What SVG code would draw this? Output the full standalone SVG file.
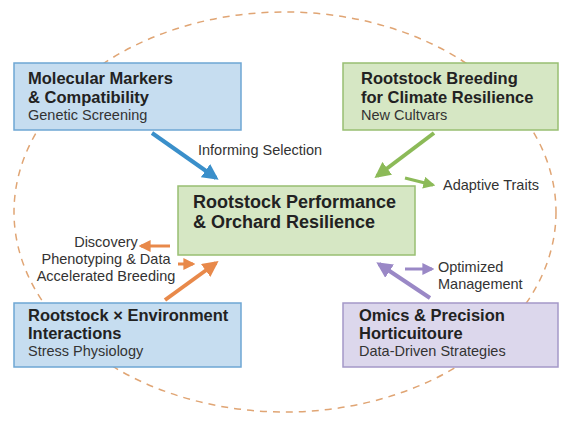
<svg xmlns="http://www.w3.org/2000/svg" width="561" height="422" viewBox="0 0 561 422">
  <style>
    text { font-family: "Liberation Sans", Arial, sans-serif; fill: #222; }
    .title { font-size: 16.5px; font-weight: bold; }
    .ctitle { font-size: 18px; font-weight: bold; }
    .sub { font-size: 14.5px; fill: #333; }
    .lbl { font-size: 14.5px; fill: #333; }
    .blue { fill: #c6ddf0; stroke: #6ea6d4; stroke-width: 1.5; }
    .green { fill: #d6e7c4; stroke: #98bf72; stroke-width: 1.5; }
    .purple { fill: #dcd7ec; stroke: #a498c8; stroke-width: 1.5; }
    .a-blue { stroke: #3a8fca; stroke-width: 4; fill: none; marker-end: url(#hBlue); }
    .a-green { stroke: #8cba58; stroke-width: 4; fill: none; marker-end: url(#hGreen); }
    .a-orange { stroke: #e8894a; stroke-width: 4; fill: none; marker-end: url(#hOrange); }
    .a-purple { stroke: #9a88c6; stroke-width: 4; fill: none; marker-end: url(#hPurple); }
    .thin { stroke-width: 3; }
  </style>
  <defs>
    <marker id="hBlue" viewBox="0 0 10 10" refX="8" refY="5" markerWidth="4" markerHeight="4" orient="auto" markerUnits="strokeWidth">
      <path d="M0,0 L10,5 L0,10 z" fill="#3a8fca"/>
    </marker>
    <marker id="hGreen" viewBox="0 0 10 10" refX="8" refY="5" markerWidth="4" markerHeight="4" orient="auto" markerUnits="strokeWidth">
      <path d="M0,0 L10,5 L0,10 z" fill="#8cba58"/>
    </marker>
    <marker id="hOrange" viewBox="0 0 10 10" refX="8" refY="5" markerWidth="4" markerHeight="4" orient="auto" markerUnits="strokeWidth">
      <path d="M0,0 L10,5 L0,10 z" fill="#e8894a"/>
    </marker>
    <marker id="hPurple" viewBox="0 0 10 10" refX="8" refY="5" markerWidth="4" markerHeight="4" orient="auto" markerUnits="strokeWidth">
      <path d="M0,0 L10,5 L0,10 z" fill="#9a88c6"/>
    </marker>
  </defs>

  <rect width="561" height="422" fill="#ffffff"/>

  <!-- dashed cycle ring behind the boxes -->
  <ellipse cx="285" cy="212" rx="271" ry="200" fill="none" stroke="#e0a574" stroke-width="1.5" stroke-dasharray="7 6"/>

  <g id="connectors">
    <line class="a-blue" x1="152" y1="133" x2="216" y2="178"/>
    <line class="a-green" x1="434" y1="133" x2="377" y2="176"/>
    <line class="a-green thin" x1="405" y1="178" x2="433" y2="185"/>
    <line class="a-orange" x1="165" y1="300" x2="216" y2="263"/>
    <line class="a-orange thin" x1="170" y1="246" x2="141" y2="246"/>
    <line class="a-orange thin" x1="178" y1="264" x2="193" y2="264"/>
    <line class="a-purple" x1="430" y1="298" x2="379" y2="264"/>
    <line class="a-purple thin" x1="405" y1="269" x2="432" y2="269"/>
  </g>

  <g id="labels">
    <text class="lbl" x="198" y="155">Informing Selection</text>
    <text class="lbl" x="443" y="190">Adaptive Traits</text>
    <text class="lbl" x="106" y="247" text-anchor="middle">Discovery</text>
    <text class="lbl" x="106" y="264" text-anchor="middle">Phenotyping &amp; Data</text>
    <text class="lbl" x="106" y="281" text-anchor="middle">Accelerated Breeding</text>
    <text class="lbl" x="438" y="272">Optimized</text>
    <text class="lbl" x="438" y="289">Management</text>
  </g>

  <g id="molecular-markers">
    <rect class="blue" x="14" y="63" width="227" height="67"/>
    <text class="title" x="28" y="84">Molecular Markers</text>
    <text class="title" x="28" y="103">&amp; Compatibility</text>
    <text class="sub" x="28" y="120">Genetic Screening</text>
  </g>

  <g id="rootstock-breeding">
    <rect class="green" x="343" y="63" width="215" height="67"/>
    <text class="title" x="361" y="84">Rootstock Breeding</text>
    <text class="title" x="361" y="103">for Climate Resilience</text>
    <text class="sub" x="361" y="120">New Cultvars</text>
  </g>

  <g id="rootstock-performance">
    <rect class="green" x="178" y="186" width="237" height="69"/>
    <text class="ctitle" x="193" y="208">Rootstock Performance</text>
    <text class="ctitle" x="193" y="228">&amp; Orchard Resilience</text>
  </g>

  <g id="rootstock-environment">
    <rect class="blue" x="14" y="303" width="227" height="64"/>
    <text class="title" x="28" y="321">Rootstock × Environment</text>
    <text class="title" x="28" y="339">Interactions</text>
    <text class="sub" x="28" y="356">Stress Physiology</text>
  </g>

  <g id="omics-precision">
    <rect class="purple" x="343" y="303" width="215" height="64"/>
    <text class="title" x="359" y="321">Omics &amp; Precision</text>
    <text class="title" x="359" y="339">Horticuitoure</text>
    <text class="sub" x="359" y="356">Data-Driven Strategies</text>
  </g>
</svg>
